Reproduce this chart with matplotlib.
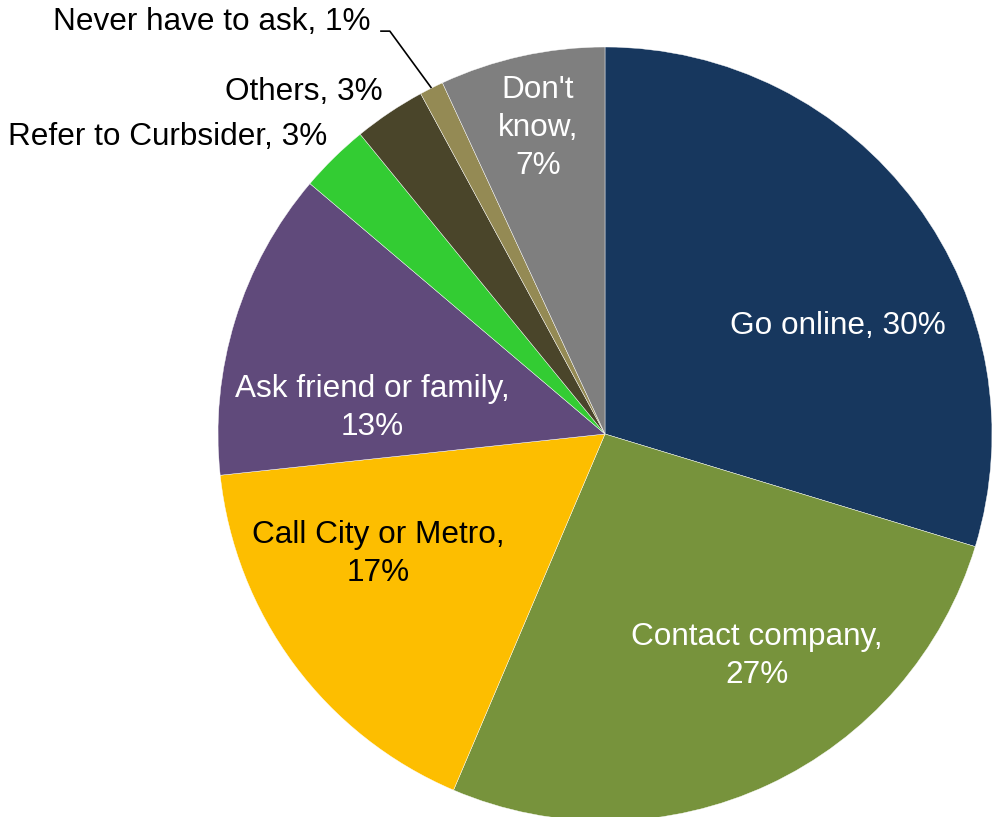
import numpy as np
import matplotlib
matplotlib.use("Agg")
import matplotlib.pyplot as plt

plt.rcParams["font.family"] = ["Liberation Sans", "DejaVu Sans"]

# survey answers, clockwise from 12 o'clock
labels = ["Go online", "Contact company", "Call City or Metro",
          "Ask friend or family", "Refer to Curbsider", "Others",
          "Never have to ask", "Don't know"]
shares = [29.7, 26.7, 16.9, 12.9, 2.9, 3.0, 1.0, 6.9]
shown = [30, 27, 17, 13, 3, 3, 1, 7]
colors = ["#17375E", "#77933C", "#FDBE00", "#604A7B",
          "#33CC33", "#4A452A", "#948A54", "#7F7F7F"]

# label text, placement (data units, pie radius = 1), alignment, colour
texts = ["Go online, 30%", "Contact company,\n27%", "Call City or Metro,\n17%",
         "Ask friend or family,\n13%", "Refer to Curbsider, 3%", "Others, 3%",
         "Never have to ask, 1%", "Don't\nknow,\n7%"]
pos = [(0.602, 0.279), (0.393, -0.574), (-0.587, -0.310), (-0.602, 0.067),
       (-0.718, 0.767), (-0.574, 0.884), (-0.607, 1.065), (-0.173, 0.791)]
align = ["center", "center", "center", "center", "right", "right", "right", "center"]
tcol = ["white", "white", "black", "white", "black", "black", "black", "white"]

fig = plt.figure(figsize=(9.94, 8.17), dpi=100)
ax = fig.add_axes([218 / 994, -4 / 817, 774 / 994, 774 / 817])
wedges, _ = ax.pie(shares, colors=colors, startangle=90, counterclock=False,
                   radius=1.0, wedgeprops=dict(edgecolor="white", linewidth=0.3))
ax.set_xlim(-1, 1)
ax.set_ylim(-1, 1)
ax.set_axis_off()

for t, (x, y), ha, c in zip(texts, pos, align, tcol):
    ax.text(x, y, t, ha=ha, va="center", color=c, fontsize=22.7,
            linespacing=1.36, clip_on=False)

# leader line for the small "Never have to ask" slice
w = wedges[6]
mid = np.deg2rad((w.theta1 + w.theta2) / 2)
ex, ey = np.cos(mid), np.sin(mid)
ax.plot([-0.581, -0.556, ex], [1.041, 1.041, ey], color="black", lw=1.2,
        clip_on=False, solid_capstyle="butt")

fig.savefig("out.png", dpi=100)
